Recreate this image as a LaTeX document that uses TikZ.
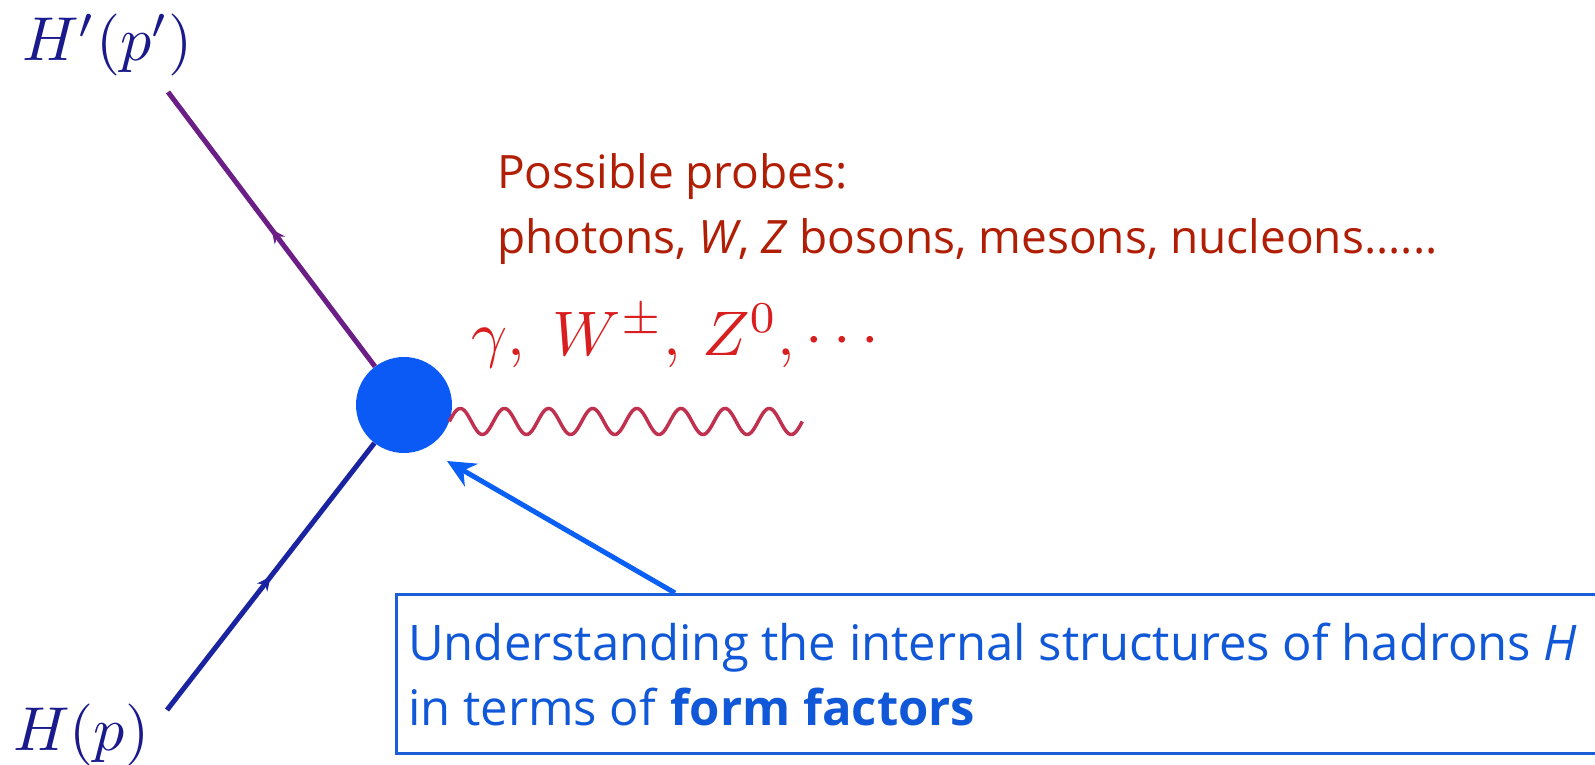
\documentclass[tikz,border=0pt]{standalone}
\usepackage{fontspec}
\setsansfont{Open Sans}
\usetikzlibrary{arrows.meta,decorations.markings}
\definecolor{uppc}{RGB}{107,30,134}
\definecolor{lowc}{RGB}{26,35,160}
\definecolor{blobc}{RGB}{12,90,245}
\definecolor{wavec}{RGB}{192,48,79}
\definecolor{gamc}{RGB}{216,30,30}
\definecolor{labc}{RGB}{26,26,140}
\definecolor{probc}{RGB}{176,30,5}
\definecolor{boxtc}{RGB}{16,88,216}
\definecolor{boxc}{RGB}{26,95,216}
\definecolor{arrc}{RGB}{10,96,245}
\begin{document}
\begin{tikzpicture}[x=1pt,y=-1pt,
  fermion/.style={line width=5pt, postaction={decorate},
    decoration={markings, mark=at position 0.5 with {\arrow[line width=1pt]{Stealth[length=14pt,width=13pt]}}}},
  wave/.style={line width=3.5pt, wavec, line join=round},
  hlabel/.style={labc, inner sep=0, anchor=base west},
  probetext/.style={probc, inner sep=0, anchor=base west, font=\sffamily\fontsize{46}{54}\selectfont},
  boxtext/.style={boxtc, inner sep=0, anchor=base west, font=\sffamily\fontsize{49}{56}\selectfont},
  probearrow/.style={arrc, line width=5pt, -{Stealth[length=28pt,width=26pt]}}]
\useasboundingbox (0,0) rectangle (1595,765);
\clip (0,0) rectangle (1595,765);
\node[circle, fill=blobc, minimum size=96pt, inner sep=0] (blob) at (404,405) {};
\coordinate (top) at (168,92);
\coordinate (bot) at (167,710);
\draw[fermion, uppc] (blob) -- (top);
\draw[fermion, lowc] (bot) -- (blob);
\draw[wave, shift={(blob.-20)}] plot[domain=0:353, samples=400, smooth] (\x, {-13*sin(\x/353*8*360)}) coordinate (wend);
\node[gamc, inner sep=0, anchor=base west] (probes) at (471,355) {\scalebox{6.3}{$\gamma,\;W^{\pm},\,Z^{0},\cdots$}};
\node[hlabel] (hout) at (22,61) {\scalebox{6.2}{$H'(p')$}};
\node[hlabel] (hin) at (13,750) {\scalebox{6.2}{$H(p)$}};
\node[probetext] (pr1) at (497,188) {Possible probes:};
\node[probetext] (pr2) at (497,253) {photons, \textit{W}, \textit{Z} bosons, mesons, nucleons......};
\node[draw=boxc, line width=3pt, minimum width=1200pt, minimum height=159pt, anchor=north west, inner sep=0] (box) at (395,593) {};
\node[boxtext] (bt1) at (408,660) {Understanding the internal structures of hadrons \textit{H}};
\node[boxtext] (bt2) at (408,725) {in terms of \textbf{form factors}};
\coordinate (atail) at (675,593);
\coordinate (atip) at (447,461);
\draw[probearrow] (atail) -- (atip);
\end{tikzpicture}
\end{document}
